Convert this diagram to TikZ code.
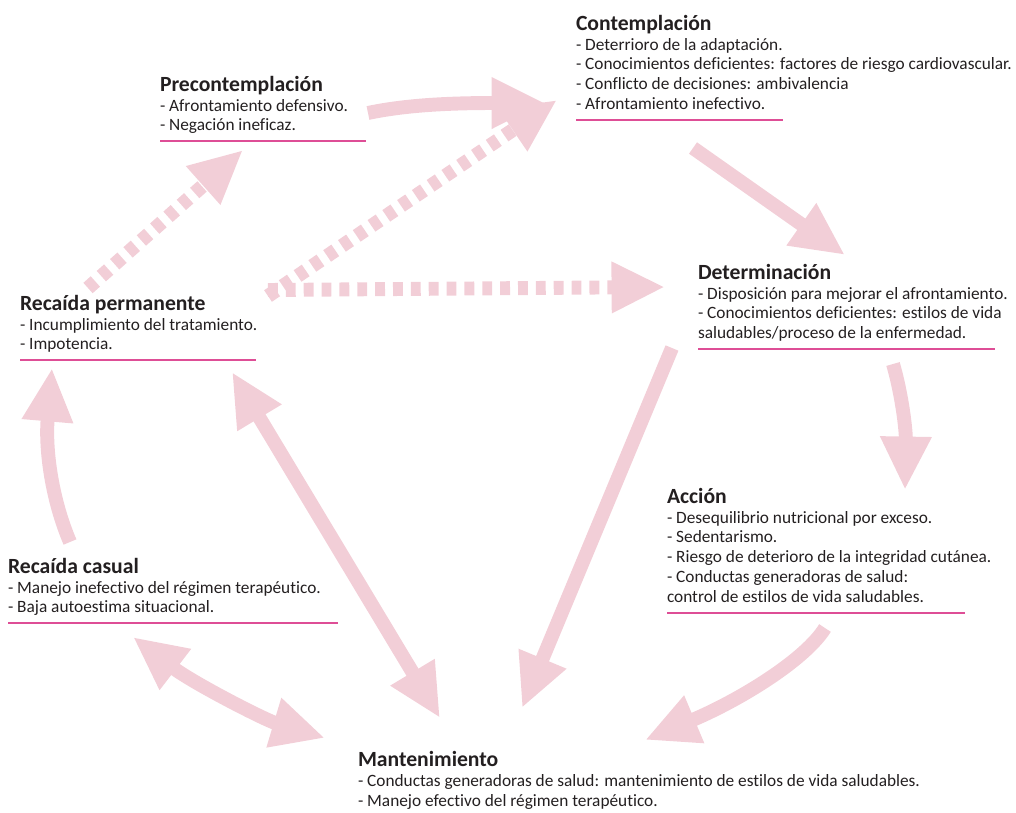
\documentclass[tikz,border=0pt]{standalone}
\usepackage{fontspec}
\setmainfont{Carlito}[Ligatures=NoCommon]
\usepackage{tikz}
\usetikzlibrary{arrows.meta,positioning}
\definecolor{rosaclaro}{RGB}{242,206,215}
\definecolor{rosa}{RGB}{222,78,150}
\definecolor{texto}{RGB}{35,31,32}

\begin{document}
\begin{tikzpicture}[
            x=0.025cm, y=-0.025cm,        % 1 unidad = 1 px
            every node/.style={inner sep=0pt, outer sep=0pt, text=texto},
            titulo/.style={anchor=base west, font=\fontsize{15.4}{18}\selectfont\bfseries},
            cuerpo/.style={anchor=north west, align=left,
                font=\fontsize{12.3}{14.2}\selectfont,
                execute at begin node=\strut, execute at end node=\strut},
            raya/.style={draw=rosa, line width=1.4pt},
            punta/.style={-{Triangle[length=38pt,width=34pt]}},
            flecha/.style={draw=rosaclaro, line width=9.9pt, punta},
            doble/.style={draw=rosaclaro, line width=9.9pt,
                {Triangle[length=38pt,width=34pt]}-{Triangle[length=38pt,width=34pt]}},
            puntos/.style={flecha, dash pattern=on 7pt off 5.7pt}
        ]
            \useasboundingbox (0,0) rectangle (1016,812);

            % extremos de las flechas
            \coordinate (pc1) at (368,113);  \coordinate (pc2) at (545,103);
            \coordinate (cd1) at (693,148);  \coordinate (cd2) at (845,255);
            \coordinate (da1) at (893,364);  \coordinate (da2) at (905,490);
            \coordinate (am1) at (825,628);  \coordinate (am2) at (645,740);
            \coordinate (dm1) at (672,348);  \coordinate (dm2) at (522,708);
            \coordinate (pm1) at (232,372);  \coordinate (pm2) at (440,718);
            \coordinate (cm1) at (133,637);  \coordinate (cm2) at (325,738);
            \coordinate (cp1) at (70,542);   \coordinate (cp2) at (52,368);
            \coordinate (rp1) at (88,288);   \coordinate (rp2) at (243,150);
            \coordinate (rc1) at (268,296);  \coordinate (rc2) at (557,100);
            \coordinate (rd1) at (268,290);  \coordinate (rd2) at (665,287);

            % flechas
            \draw[flecha] (pc1) .. controls (410,104) and (460,103) .. (pc2);
            \draw[flecha] (cd1) -- (cd2);
            \draw[flecha] (da1) .. controls (902,395) and (906,430) .. (da2);
            \draw[flecha] (am1) .. controls (805,660) and (740,700) .. (am2);
            \draw[flecha] (dm1) -- (dm2);
            \draw[doble] (pm1) -- (pm2);
            \draw[doble] (cm1) .. controls (193,683) and (265,720) .. (cm2);
            \draw[flecha] (cp1) .. controls (52,500) and (45,450) .. (cp2);
            \draw[puntos] (rp1) -- (rp2);
            \draw[puntos] (rc1) -- (rc2);
            \draw[puntos] (rd1) -- (rd2);

            % etapas
            \node[titulo] (con) at (576,30) {Contemplación};
            \node[cuerpo] (conb) at ([yshift=-0.2cm]con.base west) {- Deterrioro de la adaptación.\\- Conocimientos deficientes: factores de riesgo cardiovascular.\\- Conflicto de decisiones: ambivalencia\\- Afrontamiento inefectivo.};
            \draw[raya] ([yshift=-0.1cm]conb.south west) -- ++(207,0);

            \node[titulo] (pre) at (160,91) {Precontemplación};
            \node[cuerpo] (preb) at ([yshift=-0.2cm]pre.base west) {- Afrontamiento defensivo.\\- Negación ineficaz.};
            \draw[raya] ([yshift=-0.1cm]preb.south west) -- ++(206,0);

            \node[titulo] (det) at (698,279) {Determinación};
            \node[cuerpo] (detb) at ([yshift=-0.2cm]det.base west) {- Disposición para mejorar el afrontamiento.\\- Conocimientos deficientes: estilos de vida\\saludables/proceso de la enfermedad.};
            \draw[raya] ([yshift=-0.1cm]detb.south west) -- ++(297,0);

            \node[titulo] (perm) at (20,310) {Recaída permanente};
            \node[cuerpo] (permb) at ([yshift=-0.2cm]perm.base west) {- Incumplimiento del tratamiento.\\- Impotencia.};
            \draw[raya] ([yshift=-0.1cm]permb.south west) -- ++(236,0);

            \node[titulo] (acc) at (667,503) {Acción};
            \node[cuerpo] (accb) at ([yshift=-0.2cm]acc.base west) {- Desequilibrio nutricional por exceso.\\- Sedentarismo.\\- Riesgo de deterioro de la integridad cutánea.\\- Conductas generadoras de salud:\\control de estilos de vida saludables.};
            \draw[raya] ([yshift=-0.1cm]accb.south west) -- ++(298,0);

            \node[titulo] (cas) at (8,573) {Recaída casual};
            \node[cuerpo] (casb) at ([yshift=-0.2cm]cas.base west) {- Manejo inefectivo del régimen terapéutico.\\- Baja autoestima situacional.};
            \draw[raya] ([yshift=-0.1cm]casb.south west) -- ++(330,0);

            \node[titulo] (man) at (358,766) {Mantenimiento};
            \node[cuerpo] (manb) at ([yshift=-0.2cm]man.base west) {- Conductas generadoras de salud: mantenimiento de estilos de vida saludables.\\- Manejo efectivo del régimen terapéutico.};
        \end{tikzpicture}
\end{document}
